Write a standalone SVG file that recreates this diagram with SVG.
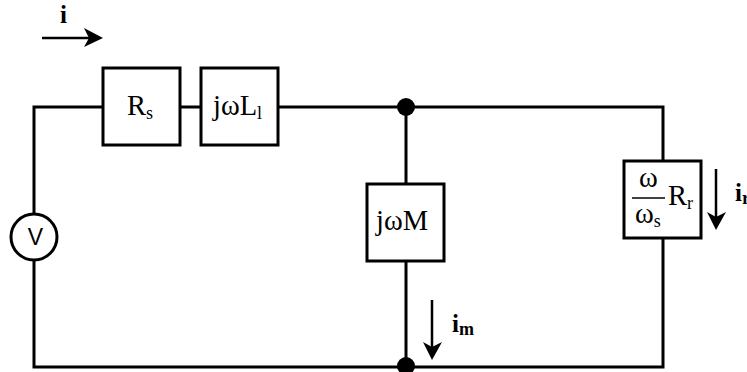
<svg xmlns="http://www.w3.org/2000/svg" width="747" height="372" viewBox="0 0 747 372">
<style>
.w{fill:none;stroke:#000;stroke-width:3}
.a{fill:none;stroke:#000;stroke-width:2.5}
.b{fill:#fff;stroke:#000;stroke-width:3}
.h{fill:#000;stroke:none}
text{font-family:"Liberation Serif","Times New Roman",serif;fill:#000;font-size:28.5px}
.s{font-size:18px}
.bd{font-weight:bold;font-size:25px}
</style>
<rect width="747" height="372" fill="#fff"/>
<g id="connectors">
<path class="w" d="M103 107H34V367H663V107H278M180 107H201M406 107V184M406 261V367M663 107V161"/>
<path class="a" d="M42 38H94"/><path class="h" d="M84 28L103 38L84 47L89 38Z"/>
<path class="a" d="M432 300V350"/><path class="h" d="M423 342L432 360L442 342L432 347Z"/>
<path class="a" d="M716 169V220"/><path class="h" d="M707 212L716 230L726 212L716 217Z"/>
</g>
<g id="node-top"><circle class="h" cx="406" cy="107" r="9"/></g>
<g id="node-bottom"><circle class="h" cx="406" cy="366" r="9"/></g>
<g id="source-v"><circle class="b" cx="34" cy="237" r="23"/><text x="35.5" y="245" text-anchor="middle" style="font-family:'Liberation Sans',Arial,sans-serif;font-size:23px">V</text></g>
<g id="rs"><rect class="b" x="103" y="68" width="77" height="77"/><text x="127" y="115">R<tspan class="s" dy="4">s</tspan></text></g>
<g id="jwl"><rect class="b" x="201" y="68" width="77" height="77"/><text x="213" y="115">jωL<tspan class="s" dy="4">l</tspan></text></g>
<g id="jwm"><rect class="b" x="367" y="184" width="77" height="77"/><text x="376" y="230">jωM</text></g>
<g id="rr"><rect class="b" x="624" y="161" width="77" height="77"/>
<text x="648.5" y="187" text-anchor="middle">ω</text>
<path d="M632 198H665" stroke="#000" stroke-width="1.5" fill="none"/>
<text x="635" y="223">ω<tspan class="s" dy="4">s</tspan></text>
<text x="668" y="205">R<tspan class="s" dy="4">r</tspan></text></g>
<g id="label-i"><text class="bd" x="60" y="23">i</text></g>
<g id="label-im"><text class="bd" x="452" y="332">i<tspan class="s" dy="3">m</tspan></text></g>
<g id="label-ir"><text class="bd" x="735" y="201">i<tspan class="s" dy="3">r</tspan></text></g>
</svg>
